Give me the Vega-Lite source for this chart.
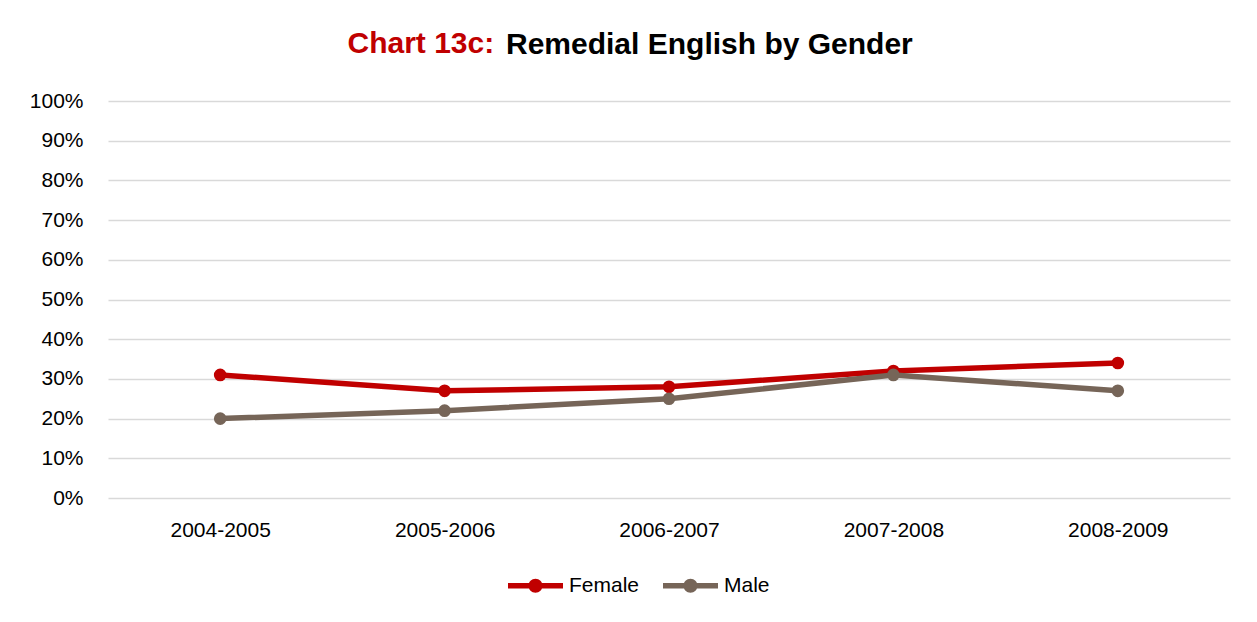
{
  "$schema": "https://vega.github.io/schema/vega-lite/v6.json",
  "width": 1122,
  "height": 397,
  "autosize": {"type": "none"},
  "padding": {"left": 108, "top": 101, "right": 27, "bottom": 124},
  "background": "white",
  "title": {
    "text": "Remedial English by Gender",
    "anchor": "start",
    "frame": "group",
    "align": "left",
    "dx": 398,
    "offset": -32,
    "font": "Liberation Sans",
    "fontSize": 30,
    "fontWeight": "bold",
    "color": "#000000"
  },
  "data": {
    "values": [
      {"year": "2004-2005", "gender": "Female", "pct": 0.31},
      {"year": "2005-2006", "gender": "Female", "pct": 0.27},
      {"year": "2006-2007", "gender": "Female", "pct": 0.28},
      {"year": "2007-2008", "gender": "Female", "pct": 0.32},
      {"year": "2008-2009", "gender": "Female", "pct": 0.34},
      {"year": "2004-2005", "gender": "Male", "pct": 0.20},
      {"year": "2005-2006", "gender": "Male", "pct": 0.22},
      {"year": "2006-2007", "gender": "Male", "pct": 0.25},
      {"year": "2007-2008", "gender": "Male", "pct": 0.31},
      {"year": "2008-2009", "gender": "Male", "pct": 0.27}
    ]
  },
  "encoding": {
    "x": {
      "field": "year",
      "type": "ordinal",
      "sort": null,
      "scale": {"type": "point", "padding": 0.5},
      "axis": {
        "title": null,
        "labelAngle": 0,
        "domain": false,
        "ticks": false,
        "grid": false,
        "labelPadding": 21,
        "labelFont": "Liberation Sans",
        "labelFontSize": 21,
        "labelColor": "#000000"
      }
    },
    "y": {
      "field": "pct",
      "type": "quantitative",
      "scale": {"domain": [0, 1], "nice": false},
      "axis": {
        "title": "Chart 13c:",
        "titleAngle": 0,
        "titleX": 239,
        "titleY": -58,
        "titleAlign": "left",
        "titleBaseline": "middle",
        "titleFont": "Liberation Sans",
        "titleFontSize": 30,
        "titleFontWeight": "bold",
        "titleColor": "#C00000",
        "values": [0, 0.1, 0.2, 0.3, 0.4, 0.5, 0.6, 0.7, 0.8, 0.9, 1],
        "format": ".0%",
        "domain": false,
        "ticks": false,
        "grid": true,
        "gridColor": "#d9d9d9",
        "gridWidth": 1.5,
        "labelPadding": 25,
        "labelFont": "Liberation Sans",
        "labelFontSize": 21,
        "labelColor": "#000000"
      }
    },
    "color": {
      "field": "gender",
      "type": "nominal",
      "scale": {"domain": ["Female", "Male"], "range": ["#C00000", "#766558"]},
      "legend": {
        "title": null,
        "orient": "none",
        "legendX": 400,
        "legendY": 457,
        "direction": "horizontal",
        "symbolType": "M-1,-0.1H1V0.1H-1Z M-0.255,0A0.255,0.255 0 1,1 0.255,0A0.255,0.255 0 1,1 -0.255,0Z",
        "symbolSize": 3025,
        "symbolStrokeWidth": 0,
        "symbolOpacity": 1,
        "labelFont": "Liberation Sans",
        "labelFontSize": 21,
        "labelColor": "#000000",
        "labelOffset": 6,
        "columnPadding": 23
      }
    }
  },
  "layer": [
    {
      "mark": {"type": "line", "strokeWidth": 5.5}
    },
    {
      "mark": {"type": "point", "filled": true, "size": 160, "opacity": 1}
    }
  ],
  "config": {
    "view": {"stroke": null}
  }
}
